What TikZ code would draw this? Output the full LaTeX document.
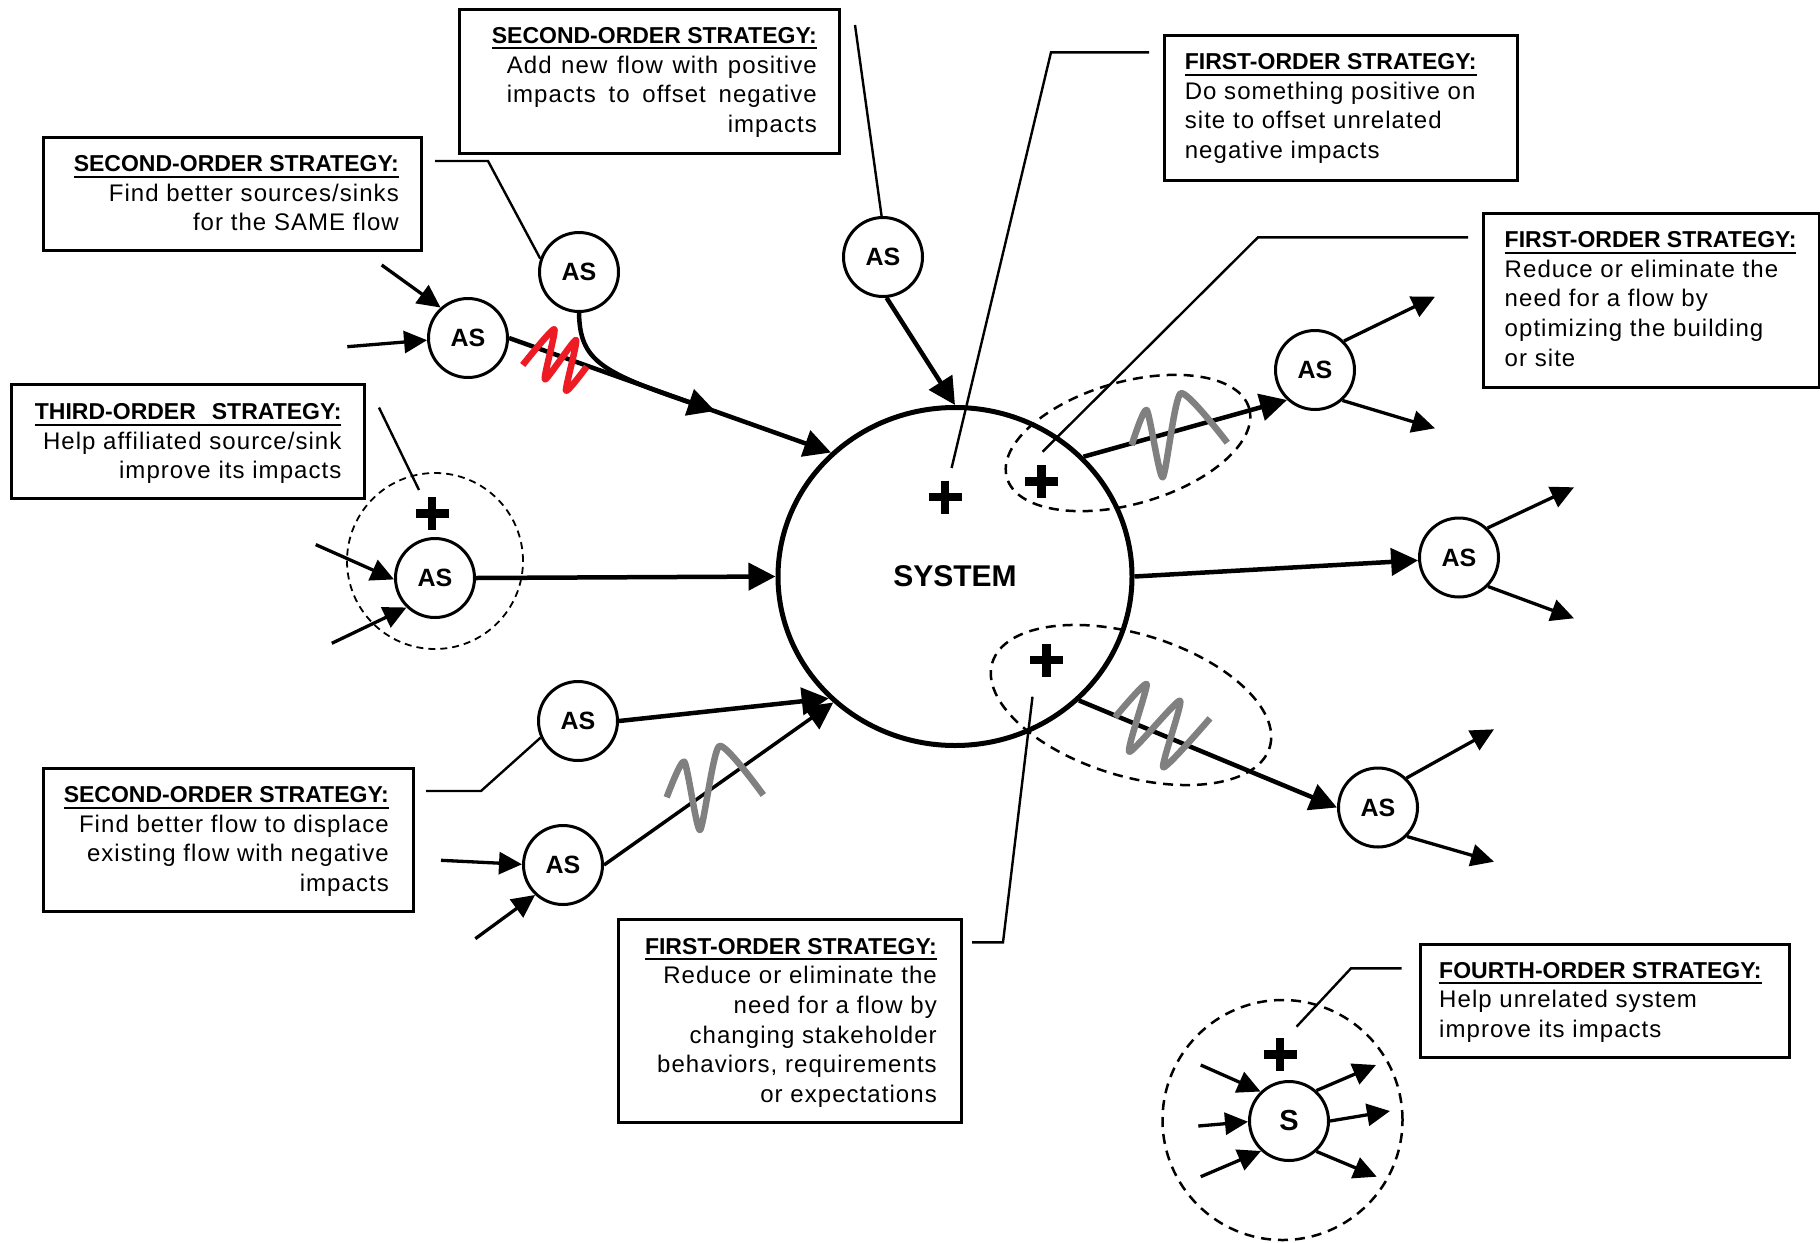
\documentclass[tikz,border=0pt]{standalone}
\usepackage{fontspec}
\setmainfont{Liberation Sans}
\newfontfamily\bodyf{Liberation Sans}[LetterSpace=4.4, Ligatures={NoCommon}]
\usetikzlibrary{arrows.meta,shapes.geometric}
\definecolor{wavered}{RGB}{237,28,36}
\definecolor{wavegrey}{RGB}{128,128,128}
\newcommand\hdr[1]{{\normalfont\bfseries\fontsize{23}{29.7}\selectfont\setbox0=\hbox{#1}\rlap{\rule[-6pt]{\wd0}{1.9pt}}\box0}}
\begin{document}
\begin{tikzpicture}[x=1pt,y=-1pt,
  notebox/.style={draw, line width=2.8pt, rectangle, anchor=north west, inner sep=0pt},
  asnode/.style={circle, draw, line width=3pt, fill=white, minimum size=79pt, inner sep=0pt, font=\bfseries\fontsize{25}{30}\selectfont},
  sysnode/.style={ellipse, draw, line width=5pt, minimum width=354pt, minimum height=338pt, inner sep=0pt, font=\bfseries\fontsize{30}{36}\selectfont},
  bigflow/.style={line width=4.5pt, -{Triangle[length=27pt,width=27pt]}},
  smallflow/.style={line width=3.3pt, -{Triangle[length=23pt,width=22pt]}},
  leader/.style={line width=2.4pt},
  zone/.style={line width=2.5pt, dash pattern=on 10pt off 7pt},
  thinzone/.style={line width=1.8pt, dash pattern=on 7pt off 5pt},
  txt/.style={inner sep=0pt, font=\bodyf\fontsize{24}{29.7}\selectfont},
  wave/.style={line width=6.5pt, line join=round},
  plussign/.pic={\draw[line width=8.5pt] (-16.5,0) -- (16.5,0) (0,-16.5) -- (0,16.5);}
]
\useasboundingbox (0,0) rectangle (1820,1242);

% dashed zones
\draw[thinzone] (435,561) circle [radius=88pt];
\draw[zone, rotate around={16:(1128,443)}] (1128,443) ellipse [x radius=126pt, y radius=61pt];
\draw[zone, rotate around={-17:(1131,705)}] (1131,705) ellipse [x radius=145pt, y radius=71pt];
\draw[zone] (1282.5,1120) circle [radius=120pt];

% boxes
\node[notebox, minimum width=380pt, minimum height=144pt] (b1) at (458,8) {};
\node[notebox, minimum width=378pt, minimum height=113pt] (b2) at (42,136) {};
\node[notebox, minimum width=353pt, minimum height=114pt] (b3) at (10,383) {};
\node[notebox, minimum width=370pt, minimum height=143pt] (b4) at (42,767) {};
\node[notebox, minimum width=353pt, minimum height=145pt] (b5) at (1163,34) {};
\node[notebox, minimum width=336pt, minimum height=174pt] (b6) at (1482,212) {};
\node[notebox, minimum width=343pt, minimum height=203pt] (b7) at (617,918) {};
\node[notebox, minimum width=369pt, minimum height=113pt] (b8) at (1419,943) {};

% box texts
\node[txt, anchor=base east] (t1) at (817,43.3) {\begin{tabular}[t]{@{}r@{}}\hdr{SECOND-ORDER STRATEGY:}\\\makebox[310pt][s]{Add new flow with positive}\\\makebox[310pt][s]{impacts to offset negative}\\impacts\end{tabular}};
\node[txt, anchor=base east] (t2) at (399,171.5) {\begin{tabular}[t]{@{}r@{}}\hdr{SECOND-ORDER STRATEGY:}\\Find better sources/sinks\\for the SAME flow\end{tabular}};
\node[txt, anchor=base east] (t3) at (341.6,419.5) {\begin{tabular}[t]{@{}r@{}}\hdr{THIRD-ORDER\hspace*{16pt}STRATEGY:}\\Help affiliated source/sink\\improve its impacts\end{tabular}};
\node[txt, anchor=base east] (t4) at (389,802.5) {\begin{tabular}[t]{@{}r@{}}\hdr{SECOND-ORDER STRATEGY:}\\Find better flow to displace\\existing flow with negative\\impacts\end{tabular}};
\node[txt, anchor=base west] (t5) at (1184.6,69.5) {\begin{tabular}[t]{@{}l@{}}\hdr{FIRST-ORDER STRATEGY:}\\Do something positive on\\site to offset unrelated\\negative impacts\end{tabular}};
\node[txt, anchor=base west] (t6) at (1504.5,247.5) {\begin{tabular}[t]{@{}l@{}}\hdr{FIRST-ORDER STRATEGY:}\\Reduce or eliminate the\\need for a flow by\\optimizing the building\\or site\end{tabular}};
\node[txt, anchor=base east] (t7) at (937,954) {\begin{tabular}[t]{@{}r@{}}\hdr{FIRST-ORDER STRATEGY:}\\Reduce or eliminate the\\need for a flow by\\changing stakeholder\\behaviors, requirements\\or expectations\end{tabular}};
\node[txt, anchor=base west] (t8) at (1439,978) {\begin{tabular}[t]{@{}l@{}}\hdr{FOURTH-ORDER STRATEGY:}\\Help unrelated system\\improve its impacts\end{tabular}};

% system and agents
\node[sysnode] (sys) at (955,576.5) {SYSTEM};
\node[asnode] (as1) at (468,338) {AS};
\node[asnode] (as2) at (579,272) {AS};
\node[asnode] (as3) at (883,257) {AS};
\node[asnode] (as4) at (1315,370) {AS};
\node[asnode] (as5) at (1459,557.5) {AS};
\node[asnode] (as6) at (1378,807.5) {AS};
\node[asnode] (as7) at (435,578) {AS};
\node[asnode] (as8) at (578,721) {AS};
\node[asnode] (as9) at (563,865) {AS};
\node[asnode, font=\bfseries\fontsize{29}{34}\selectfont] (s) at (1289,1121) {S};

% free ends
\coordinate (m1) at (715,411);
\coordinate (i1a) at (381.7,265);
\coordinate (i1b) at (347.3,346.7);
\coordinate (i7a) at (315.7,544.6);
\coordinate (i7b) at (331.8,643.3);
\coordinate (i9a) at (441,860.3);
\coordinate (i9b) at (475.3,938.7);
\coordinate (o4a) at (1435,296.7);
\coordinate (o4b) at (1435,428.3);
\coordinate (o5a) at (1574,487.3);
\coordinate (o5b) at (1574,618.3);
\coordinate (o6a) at (1494,729.3);
\coordinate (o6b) at (1494,861.7);
\coordinate (si1) at (1200.7,1065);
\coordinate (si2) at (1198.3,1126);
\coordinate (si3) at (1200.7,1176.7);
\coordinate (so1) at (1376,1065);
\coordinate (so2) at (1390,1111);
\coordinate (so3) at (1376.7,1176.7);

% main flows
\draw[bigflow] (as1.east) -- (sys.135.3);
\draw[bigflow] (as2.south) .. controls (580,360) and (600,372) .. (m1);
\draw[bigflow] (as3.-85) -- (sys.90);
\draw[bigflow] (as7.east) -- (sys.180);
\draw[bigflow] (as8.east) -- (sys.224);
\draw[bigflow, line width=3.5pt] (as9.east) -- (sys.226);
\draw[bigflow] (sys.43.9) -- (as4.227);
\draw[bigflow] (sys.east) -- (as5.184);
\draw[bigflow] (sys.315.4) -- (as6.west);

% small flows
\draw[smallflow] (i1a) -- (as1.132);
\draw[smallflow] (i1b) -- (as1.183);
\draw[smallflow] (i7a) -- (as7.182);
\draw[smallflow] (i7b) -- (as7.226);
\draw[smallflow] (i9a) -- (as9.179);
\draw[smallflow] (i9b) -- (as9.227);
\draw[smallflow] (as4.45) -- (o4a);
\draw[smallflow] (as4.-48) -- (o4b);
\draw[smallflow] (as5.46) -- (o5a);
\draw[smallflow] (as5.-45) -- (o5b);
\draw[smallflow] (as6.46) -- (o6a);
\draw[smallflow] (as6.-45) -- (o6b);
\draw[smallflow] (si1) -- (s.134);
\draw[smallflow] (si2) -- (s.181);
\draw[smallflow] (si3) -- (s.227);
\draw[smallflow] (s.48) -- (so1);
\draw[smallflow] (s.0) -- (so2);
\draw[smallflow] (s.-48) -- (so3);

% leaders
\coordinate (l1) at (855,25);
\coordinate (l2a) at (435,161);
\coordinate (l2b) at (488,161);
\coordinate (l3a) at (379,407.6);
\coordinate (l3b) at (419,490);
\coordinate (l4a) at (426,791);
\coordinate (l4b) at (481,791);
\coordinate (l5a) at (1149,52.3);
\coordinate (l5b) at (1051,52.3);
\coordinate (l5c) at (951.6,468);
\coordinate (l6a) at (1468,237.3);
\coordinate (l6b) at (1258,237.3);
\coordinate (l6c) at (1042.6,451.7);
\coordinate (l7a) at (972,942.3);
\coordinate (l7b) at (1003,942.3);
\coordinate (l7c) at (1032.5,696.7);
\coordinate (l8a) at (1401.6,968.3);
\coordinate (l8b) at (1351,968.3);
\coordinate (l8c) at (1296.5,1026.7);
\draw[leader] (l1) -- (as3.92);
\draw[leader] (l2a) -- (l2b) -- (as2.161);
\draw[leader] (l3a) -- (l3b);
\draw[leader] (l4a) -- (l4b) -- (as8.204);
\draw[leader] (l5a) -- (l5b) -- (l5c);
\draw[leader] (l6a) -- (l6b) -- (l6c);
\draw[leader] (l7a) -- (l7b) -- (l7c);
\draw[leader] (l8a) -- (l8b) -- (l8c);

% plus signs
\pic at (432,513.5) {plussign};
\pic at (945,497) {plussign};
\pic at (1041.7,481.7) {plussign};
\pic at (1046.7,660) {plussign};
\pic at (1280,1054.3) {plussign};

% waves
\draw[wave, wavered] plot[smooth, tension=0.35] coordinates {(522.7,365) (554.3,329.3) (545,379.3) (576,340) (566,390.7) (586.7,366.7)};
\draw[wave, wavegrey] plot[smooth, tension=0.35] coordinates {(1131.7,445) (1146.7,410) (1162.7,477.3) (1180.7,393.3) (1227.3,442.7)};
\draw[wave, wavegrey] plot[smooth, tension=0.35] coordinates {(666.7,797.3) (684.3,761.7) (700,830) (719.3,746) (763.3,795)};
\draw[wave, wavegrey] plot[smooth, tension=0.35] coordinates {(1115,717.3) (1146.7,684) (1129.3,751.7) (1180,700.7) (1163.3,767.3) (1210,718.3)};
\end{tikzpicture}
\end{document}
